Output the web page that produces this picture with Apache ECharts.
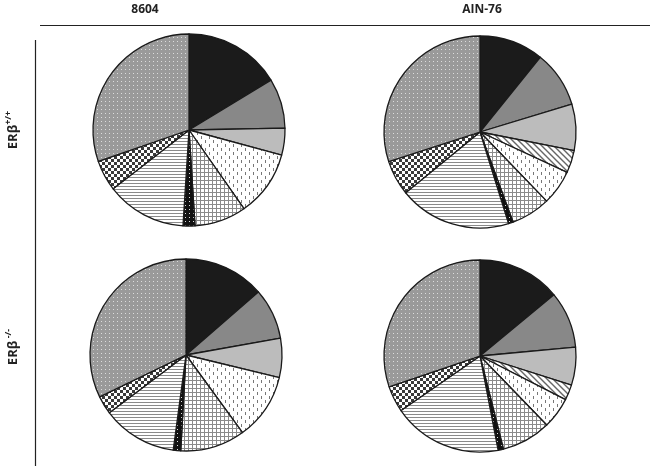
<!DOCTYPE html>
<html><head><meta charset="utf-8">
<script src="https://cdn.jsdelivr.net/npm/echarts@6/dist/echarts.min.js"></script>
<style>html,body{margin:0;padding:0;background:#fff}#c{width:650px;height:468px}</style>
</head><body><div id="c"></div>
<script>
// Categories (slice order, clockwise from 12 o'clock)
var categories = ['Black','Dark gray','Light gray','Diagonal','Dashed','Grid','Dotted black','Horizontal','Checker','Gray dotted'];
// Percentages
var val_8604_wt  = [16.3, 8.4, 4.5, 0,   11.1, 8.7, 2.0, 13.5, 5.2, 30.3];
var val_AIN_wt   = [10.8, 9.5, 7.8, 3.8, 5.9,  6.6, 0.8, 18.9, 5.9, 30.0];
var val_8604_ko  = [13.6, 8.6, 6.6, 0,   11.2, 10.9, 1.25, 12.6, 3.1, 32.2];
var val_AIN_ko   = [14.0, 9.5, 6.4, 2.6, 5.25, 8.3, 0.9, 18.4, 4.4, 30.2];
var colLabels = ['8604', 'AIN-76'];

function pat(w, h, fn) {
  var c = document.createElement('canvas'); c.width = w; c.height = h;
  var g = c.getContext('2d'); fn(g, w, h);
  return { image: c, repeat: 'repeat' };
}
var fills = [
  '#1b1b1b',
  '#888888',
  '#bcbcbc',
  pat(6, 6, function (g) { g.fillStyle = '#fff'; g.fillRect(0,0,6,6); g.strokeStyle = '#666'; g.lineWidth = 1.4;
    g.beginPath(); g.moveTo(-1,-1); g.lineTo(7,7); g.moveTo(-4,2); g.lineTo(2,8); g.moveTo(2,-4); g.lineTo(8,2); g.stroke(); }),
  pat(8, 8, function (g) { g.fillStyle = '#fff'; g.fillRect(0,0,8,8); g.fillStyle = '#777';
    g.fillRect(1,0,1,3); g.fillRect(5,4,1,3); }),
  pat(4, 4, function (g) { g.fillStyle = '#fff'; g.fillRect(0,0,4,4); g.fillStyle = '#8a8a8a';
    g.fillRect(0,0,4,1); g.fillRect(0,0,1,4); }),
  pat(4, 4, function (g) { g.fillStyle = '#111'; g.fillRect(0,0,4,4); g.fillStyle = '#ddd'; g.fillRect(1,1,1,1); }),
  pat(3, 3, function (g) { g.fillStyle = '#fff'; g.fillRect(0,0,3,3); g.fillStyle = '#8a8a8a'; g.fillRect(0,0,3,1); }),
  pat(6, 6, function (g) { g.fillStyle = '#fff'; g.fillRect(0,0,6,6); g.fillStyle = '#3a3a3a';
    g.fillRect(0,0,3,3); g.fillRect(3,3,3,3); }),
  pat(4, 4, function (g) { g.fillStyle = '#9a9a9a'; g.fillRect(0,0,4,4); g.fillStyle = '#dcdcdc'; g.fillRect(1,1,1,1); })
];

function buildData(vals) {
  var out = [];
  vals.forEach(function (v, i) {
    if (v > 0) out.push({ name: categories[i], value: v, itemStyle: { color: fills[i] } });
  });
  return out;
}
function pie(vals, cx, cy) {
  return {
    type: 'pie', center: [cx, cy], radius: 96, startAngle: 90, clockwise: true,
    label: { show: false }, labelLine: { show: false }, silent: true,
    emphasis: { disabled: true },
    itemStyle: { borderColor: '#1a1a1a', borderWidth: 1.3 },
    data: buildData(vals)
  };
}
var chart = echarts.init(document.getElementById('c'), null, { renderer: 'canvas' });
var font = '"Open Sans", sans-serif';
chart.setOption({
  animation: false,
  series: [
    pie(val_8604_wt, 189, 130),
    pie(val_AIN_wt, 480, 132),
    pie(val_8604_ko, 186, 355),
    pie(val_AIN_ko, 480, 356)
  ],
  graphic: [
    { type: 'line', shape: { x1: 40, y1: 25.5, x2: 650, y2: 25.5 }, style: { stroke: '#222', lineWidth: 1.2 } },
    { type: 'line', shape: { x1: 35.5, y1: 40, x2: 35.5, y2: 466 }, style: { stroke: '#222', lineWidth: 1.2 } },
    { type: 'text', x: 145, y: 10, style: { text: colLabels[0], font: 'bold 12px ' + font, fill: '#222', textAlign: 'center', textVerticalAlign: 'middle' } },
    { type: 'text', x: 482, y: 10, style: { text: colLabels[1], font: 'bold 12px ' + font, fill: '#222', textAlign: 'center', textVerticalAlign: 'middle' } },
    { type: 'text', x: 13, y: 130, rotation: Math.PI / 2,
      style: { text: '{a|ERβ}{s|+/+}', fill: '#222', textAlign: 'center', textVerticalAlign: 'middle',
        rich: { a: { font: 'bold 13px ' + font, fill: '#222' }, s: { font: 'bold 9px ' + font, fill: '#222', padding: [0,0,9,0] } } } },
    { type: 'text', x: 13, y: 347, rotation: Math.PI / 2,
      style: { text: '{a|ERβ}{s| -/-}', fill: '#222', textAlign: 'center', textVerticalAlign: 'middle',
        rich: { a: { font: 'bold 13px ' + font, fill: '#222' }, s: { font: 'bold 9px ' + font, fill: '#222', padding: [0,0,9,0] } } } }
  ]
});
</script></body></html>
